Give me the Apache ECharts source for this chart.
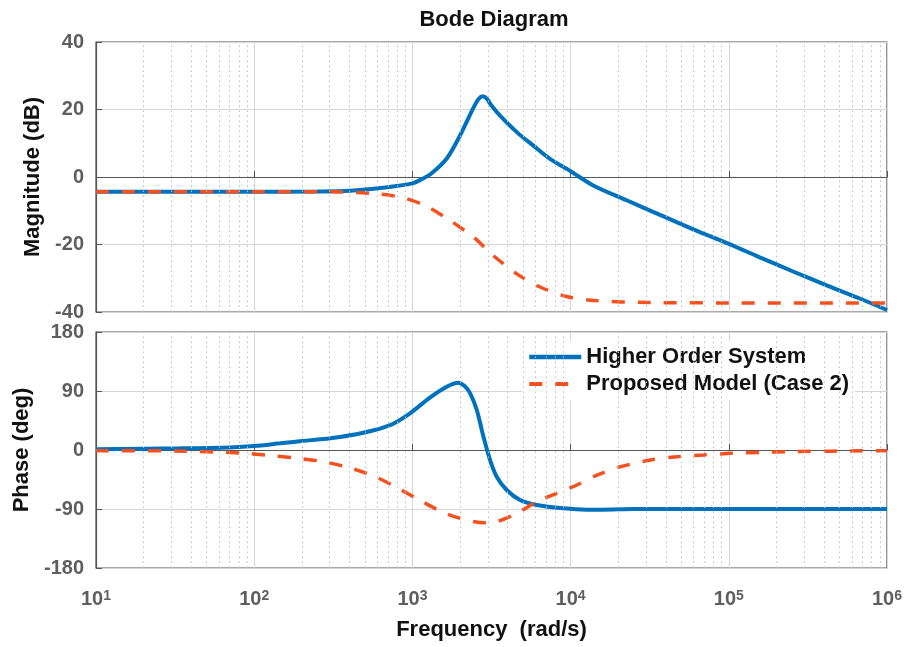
<!DOCTYPE html>
<html>
<head>
<meta charset="utf-8">
<title>Bode Diagram</title>
<script src="https://cdn.jsdelivr.net/npm/echarts@6/dist/echarts.min.js"></script>
<style>
html, body { margin: 0; padding: 0; background: #fff; }
#chart { width: 908px; height: 647px; }
</style>
</head>
<body>
<div id="chart"></div>
<script>
// Higher Order System - magnitude (dB) and phase (deg), frequency in rad/s
const hosMagFreq = [10, 100, 251, 400, 650, 1000, 1150, 1300, 1650, 2000, 2430, 2630, 2790, 2950, 3160, 3580, 4570, 5810, 7410, 10000, 13900, 22600, 36700, 59600, 100000, 157000, 255000, 415000, 673000, 1000000];
const hosMag = [-4.4, -4.4, -4.3, -4.1, -3.2, -1.9, -0.6, 0.8, 5.5, 12.3, 20.5, 23.2, 23.9, 23.2, 21.2, 18.2, 13.3, 9.3, 5.4, 1.7, -2.5, -6.9, -11.2, -15.5, -19.8, -23.8, -28.0, -32.1, -36.0, -39.4];
const hosPhaseFreq = [10, 34, 70, 100, 146, 200, 302, 490, 724, 966, 1290, 1648, 1950, 2138, 2317, 2553, 2812, 3097, 3412, 3945, 4786, 6109, 8995, 12600, 15800, 25100, 100000, 1000000];
const hosPhase = [1, 2.5, 4, 6, 10.2, 13.7, 17.8, 26.4, 38, 56, 80, 96.6, 102.7, 97.6, 86.4, 61, 20.3, -15.3, -40.7, -61, -76.3, -83.9, -89, -91, -91, -90, -90, -90];

// Proposed Model (Case 2)
const pmMagFreq = [10, 100, 316, 600, 880, 1230, 1730, 2430, 3250, 4570, 6410, 9440, 14100, 31600, 100000, 1000000];
const pmMag = [-4.4, -4.4, -4.4, -5.0, -6.2, -8.7, -12.9, -17.8, -23.3, -28.7, -32.6, -35.4, -36.6, -37.2, -37.3, -37.3];
const pmPhaseFreq = [10, 32, 81, 120, 178, 261, 385, 568, 794, 1122, 1648, 2427, 2884, 3412, 4571, 6109, 8166, 10960, 14790, 20750, 32060, 47210, 69180, 102300, 158500, 234400, 1000000];
const pmPhase = [-1, -1.5, -4.5, -8, -12, -17, -26, -39.7, -57, -77, -97.6, -109, -111, -109.3, -96.6, -78.8, -66, -53.4, -38, -25.4, -15.3, -10.2, -7.6, -5.1, -3.6, -2.5, -1];

// axes
const xExponents = [1, 2, 3, 4, 5, 6];
const magTicks = [-40, -20, 0, 20, 40];
const phaseTicks = [-180, -90, 0, 90, 180];

const seriesNames = ['Higher Order System', 'Proposed Model (Case 2)'];
const blue = '#0072BD';
const orange = '#F5501E';
const font = 'Liberation Sans, Arial, sans-serif';
const dash = [13, 13];

// minor grid positions 2..9 in each decade
const minorFreqs = [];
for (let e = 1; e < 6; e++) {
  for (let k = 2; k < 10; k++) minorFreqs.push(k * Math.pow(10, e));
}

function pairs(xs, ys) {
  return xs.map((x, i) => [x, ys[i]]);
}

function minorLines() {
  return {
    silent: true,
    symbol: ['none', 'none'],
    label: { show: false },
    lineStyle: { color: '#bdbdbd', type: [1.5, 3.5], width: 1 },
    data: minorFreqs.map(f => ({ xAxis: f }))
  };
}

let myChart = echarts.init(document.getElementById('chart'));

const gridStyle = { show: true, borderColor: '#555', borderWidth: 1.2, backgroundColor: '#fff' };
const nameStyle = { fontFamily: font, fontSize: 22, fontWeight: 'bold', color: '#111' };
const tickLabelStyle = { fontFamily: font, fontSize: 20, fontWeight: 'bold', color: '#5e5e5e' };

function yAxisOf(grid, ticks, step, name, gap) {
  return {
    type: 'value',
    gridIndex: grid,
    min: ticks[0],
    max: ticks[ticks.length - 1],
    interval: step,
    axisLine: { show: true, lineStyle: { color: '#555', width: 1.2 } },
    axisTick: { show: true, inside: true, length: 6, lineStyle: { color: '#555' } },
    splitLine: { show: true, lineStyle: { color: '#d6d6d6', width: 1 } },
    axisLabel: Object.assign({ margin: 12 }, tickLabelStyle),
    name: name,
    nameLocation: 'middle',
    nameGap: gap,
    nameTextStyle: nameStyle
  };
}

let option = {
  animation: false,
  title: {
    text: 'Bode Diagram',
    left: 489,
    textAlign: 'center',
    top: 4,
    textStyle: { fontFamily: font, fontSize: 22, fontWeight: 'bold', color: '#111' }
  },
  legend: {
    data: [
      { name: seriesNames[0], lineStyle: { color: blue, width: 4.5 } },
      { name: seriesNames[1], lineStyle: { color: orange, width: 4, type: dash } }
    ],
    orient: 'vertical',
    left: 522,
    top: 341,
    padding: [5, 6, 5, 5],
    itemGap: 5,
    itemWidth: 52,
    itemHeight: 14,
    itemStyle: { opacity: 0 },
    backgroundColor: '#fff',
    textStyle: { fontFamily: font, fontSize: 22, fontWeight: 'bold', color: '#111', lineHeight: 22 }
  },
  grid: [
    Object.assign({ left: 96, right: 21, top: 42, height: 270 }, gridStyle),
    Object.assign({ left: 96, right: 21, top: 332, height: 236 }, gridStyle)
  ],
  xAxis: [0, 1].map(i => ({
    type: 'log',
    logBase: 10,
    gridIndex: i,
    min: 10,
    max: 1000000,
    splitNumber: 5,
    axisLine: { show: true, lineStyle: { color: '#555', width: 1.2 } },
    axisTick: { show: true, inside: true, length: 6, lineStyle: { color: '#555' } },
    splitLine: { show: true, lineStyle: { color: '#d6d6d6', width: 1 } },
    axisLabel: i === 0 ? { show: false } : {
      show: true,
      margin: 21,
      formatter: v => {
        const e = xExponents.find(k => Math.abs(Math.log10(v) - k) < 1e-6);
        return '{b|10}{s|' + e + '}';
      },
      rich: {
        b: { fontFamily: font, fontSize: 20, fontWeight: 'bold', color: '#5e5e5e' },
        s: { fontFamily: font, fontSize: 14, fontWeight: 'bold', color: '#5e5e5e', verticalAlign: 'top' }
      }
    },
    name: i === 1 ? 'Frequency  (rad/s)' : '',
    nameLocation: 'middle',
    nameGap: 51,
    nameTextStyle: nameStyle
  })),
  yAxis: [
    yAxisOf(0, magTicks, 20, 'Magnitude (dB)', 50),
    yAxisOf(1, phaseTicks, 90, 'Phase (deg)', 63)
  ],
  series: [
    // dotted minor grid lines
    { type: 'line', xAxisIndex: 0, yAxisIndex: 0, data: [], z: 1, markLine: minorLines() },
    { type: 'line', xAxisIndex: 1, yAxisIndex: 1, data: [], z: 1, markLine: minorLines() },
    {
      name: seriesNames[0], type: 'line', xAxisIndex: 0, yAxisIndex: 0,
      data: pairs(hosMagFreq, hosMag), symbol: 'none', smooth: 0.3, z: 3,
      lineStyle: { color: blue, width: 4 }, itemStyle: { color: blue }
    },
    {
      name: seriesNames[1], type: 'line', xAxisIndex: 0, yAxisIndex: 0,
      data: pairs(pmMagFreq, pmMag), symbol: 'none', smooth: 0.3, z: 4,
      lineStyle: { color: orange, width: 3.5, type: dash }, itemStyle: { color: orange }
    },
    {
      name: seriesNames[0], type: 'line', xAxisIndex: 1, yAxisIndex: 1,
      data: pairs(hosPhaseFreq, hosPhase), symbol: 'none', smooth: 0.3, z: 3,
      lineStyle: { color: blue, width: 4 }, itemStyle: { color: blue }
    },
    {
      name: seriesNames[1], type: 'line', xAxisIndex: 1, yAxisIndex: 1,
      data: pairs(pmPhaseFreq, pmPhase), symbol: 'none', smooth: 0.3, z: 4,
      lineStyle: { color: orange, width: 3.5, type: dash }, itemStyle: { color: orange }
    }
  ]
};

myChart.setOption(option);
</script>
</body>
</html>
